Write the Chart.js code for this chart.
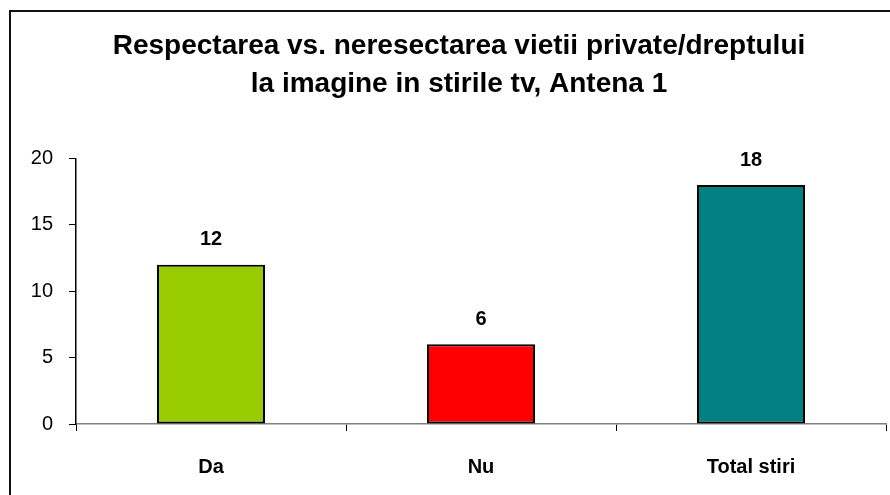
<!DOCTYPE html>
<html>
<head>
<meta charset="utf-8">
<script src="https://cdn.jsdelivr.net/npm/chart.js@4.4.0/dist/chart.umd.min.js"></script>
<style>
  html, body { margin: 0; padding: 0; background: #fff; overflow: hidden; }
  /* frame: only top and left edges are visible, the rest runs off the picture */
  .frame {
    position: absolute; left: 9px; top: 10px;
    width: 901px; height: 490px;
    border-left: 2px solid #111; border-top: 2px solid #111;
    box-sizing: border-box;
  }
  .frame canvas { position: absolute; left: -2px; top: -2px; }
</style>
</head>
<body>
<div class="frame">
  <canvas id="myChart" width="901" height="490"></canvas>
</div>
<script>
/* chart values */
const categories = ["Da", "Nu", "Total stiri"];
const stiri = [12, 6, 18];
const barColors = ["#99CC00", "#FF0000", "#008080"];
const yTicks = [0, 5, 10, 15, 20];
const titleLines = ["Respectarea vs. neresectarea vietii private/dreptului", "la imagine in stirile tv, Antena 1"];

const fontFamily = "'Liberation Sans', Arial, sans-serif";

/* little plugin that writes the number above each bar */
const valueLabels = {
  id: "valueLabels",
  afterDatasetsDraw(chart) {
    const ctx = chart.ctx;
    const meta = chart.getDatasetMeta(0);
    ctx.save();
    ctx.font = "bold 20px " + fontFamily;
    ctx.fillStyle = "#000";
    ctx.textAlign = "center";
    ctx.textBaseline = "middle";
    meta.data.forEach((bar, i) => {
      ctx.fillText(String(stiri[i]), bar.x, bar.y - 25);
    });
    ctx.restore();
  }
};

/* title is centred on the whole frame, not on the padded area */
const wideTitle = {
  id: "wideTitle",
  afterLayout(chart) {
    if (chart.titleBlock) {
      chart.titleBlock.left = 0;
      chart.titleBlock.right = 900;
    }
  }
};

const data = {
  labels: categories,
  datasets: [{
    data: stiri,
    backgroundColor: barColors,
    borderColor: "#000",
    borderWidth: 2,
    borderSkipped: false,
    categoryPercentage: 1,
    barPercentage: 0.4
  }]
};

const config = {
  type: "bar",
  data: data,
  plugins: [valueLabels, wideTitle],
  options: {
    responsive: false,
    animation: false,
    layout: { padding: { left: 0, right: 24, top: 0, bottom: 0 } },
    plugins: {
      legend: { display: false },
      tooltip: { enabled: false },
      title: {
        display: true,
        text: titleLines,
        color: "#000",
        font: { family: fontFamily, size: 28, weight: "bold", lineHeight: 1.33 },
        padding: { top: 18, bottom: 56 }
      }
    },
    scales: {
      x: {
        offset: true,
        grid: { offset: true, drawOnChartArea: false, drawTicks: true, tickLength: 7, tickColor: "#000" },
        border: { display: true, color: "#808080", width: 1.5 },
        ticks: {
          color: "#000",
          padding: 24,
          font: { family: fontFamily, size: 20, weight: "bold" }
        },
        afterFit(scale) { scale.height = 76; }
      },
      y: {
        min: 0,
        max: 20,
        afterBuildTicks(scale) { scale.ticks = yTicks.map(v => ({ value: v })); },
        grid: { drawOnChartArea: false, drawTicks: true, tickLength: 7, tickColor: "#000" },
        border: { display: true, color: "#000", width: 1.5 },
        ticks: {
          color: "#000",
          padding: 16,
          font: { family: fontFamily, size: 20 }
        },
        afterFit(scale) { scale.width = 67; }
      }
    }
  }
};

const myChart = new Chart(document.getElementById("myChart"), config);
</script>
</body>
</html>
